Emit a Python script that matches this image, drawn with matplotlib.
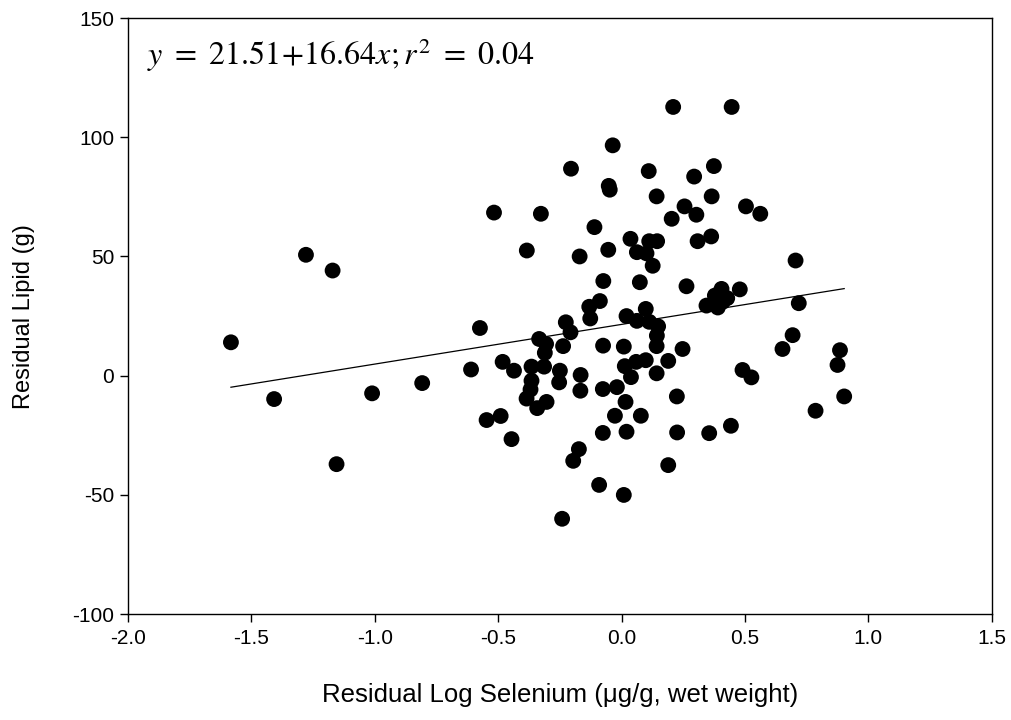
import numpy as np
import matplotlib
matplotlib.use("Agg")
import matplotlib.pyplot as plt

# residual log selenium (x) and residual lipid (y)
sel = [-1.583, -1.408, -1.279, -1.171, -1.155, -1.011, -0.808, -0.610, -0.574, -0.547,
       -0.517, -0.490, -0.482, -0.446, -0.436, -0.384, -0.385, -0.369, -0.365, -0.365,
       -0.342, -0.334, -0.327, -0.314, -0.311, -0.306, -0.304, -0.253, -0.250, -0.241,
       -0.237, -0.226, -0.207, -0.205, -0.196, -0.173, -0.170, -0.167, -0.166, -0.131,
       -0.127, -0.110, -0.091, -0.088, -0.074, -0.075, -0.076, -0.076, -0.054, -0.052,
       -0.048, -0.036, -0.027, -0.019, 0.009, 0.009, 0.013, 0.016, 0.020, 0.020,
       0.036, 0.038, 0.059, 0.062, 0.062, 0.074, 0.078, 0.098, 0.098, 0.101,
       0.110, 0.112, 0.112, 0.126, 0.142, 0.142, 0.142, 0.143, 0.144, 0.148,
       0.189, 0.189, 0.203, 0.209, 0.224, 0.225, 0.247, 0.255, 0.263, 0.294,
       0.303, 0.308, 0.355, 0.363, 0.365, 0.374, 0.405, 0.378, 0.428, 0.344,
       0.390, 0.410, 0.443, 0.446, 0.479, 0.490, 0.504, 0.526, 0.562, 0.652,
       0.693, 0.705, 0.718, 0.786, 0.875, 0.885, 0.902]
lipid = [14.0, -9.8, 50.7, 44.1, -37.1, -7.4, -3.1, 2.6, 20.0, -18.6,
         68.4, -16.9, 5.8, -26.6, 2.1, 52.5, -9.6, -5.8, -2.1, 3.8,
         -13.6, 15.4, 67.9, 3.8, 9.6, 13.3, -11.0, -2.8, 2.1, -60.0,
         12.4, 22.4, 18.2, 86.8, -35.7, -30.8, 50.0, -6.3, 0.3, 28.9,
         24.0, 62.3, -45.8, 31.3, 39.7, 12.6, -5.6, -24.0, 52.8, 79.6,
         78.0, 96.6, -16.8, -4.8, 12.2, -50.0, 4.0, -11.0, 25.0, -23.5,
         57.4, -0.6, 5.8, 51.8, 23.0, 39.2, -16.8, 6.5, 28.0, 51.3,
         85.8, 56.4, 22.6, 46.1, 75.2, 1.0, 12.4, 16.8, 56.4, 20.7,
         6.2, -37.5, 65.8, 112.7, -8.7, -23.8, 11.2, 71.0, 37.5, 83.5,
         67.5, 56.4, -24.1, 58.4, 75.2, 87.9, 36.4, 33.6, 32.5, 29.4,
         28.6, 31.0, -21.0, 112.7, 36.2, 2.4, 71.0, -0.7, 67.9, 11.2,
         17.0, 48.3, 30.4, -14.7, 4.5, 10.7, -8.7]

intercept = 21.51
slope = 16.64

xticks = [-2.0, -1.5, -1.0, -0.5, 0.0, 0.5, 1.0, 1.5]
yticks = [-100, -50, 0, 50, 100, 150]

plt.rcParams['font.family'] = ['Liberation Sans', 'DejaVu Sans']
plt.rcParams['mathtext.fontset'] = 'stix'

fig = plt.figure(figsize=(10.12, 7.2), dpi=100)
ax = fig.add_axes([0.1265, 0.147, 0.8535, 0.828])

ax.scatter(sel, lipid, s=130, c='black', edgecolors='none', zorder=3)

# regression line over the data range
xl = np.array([min(sel), max(sel)])
ax.plot(xl, intercept + slope * xl, color='black', lw=0.9, zorder=2)

ax.set_xlim(-2.0, 1.5)
ax.set_ylim(-100, 150)
ax.set_xticks(xticks)
ax.set_yticks(yticks)
ax.set_xticklabels(['%.1f' % v for v in xticks])
ax.set_yticklabels([str(v) for v in yticks])
ax.tick_params(direction='out', length=6, width=1, labelsize=15, top=False, right=False)
ax.tick_params(axis='x', pad=5)
ax.tick_params(axis='y', pad=4)
for s in ax.spines.values():
    s.set_linewidth(1)

ax.set_xlabel('Residual Log Selenium (\u03bcg/g, wet weight)', fontsize=18.5, labelpad=25)
ax.set_ylabel('Residual Lipid (g)', fontsize=17, labelpad=27)

ax.text(0.022, 0.922, r'$y\ =\ 21.51\!+\!16.64x; r^2\ =\ 0.04$', transform=ax.transAxes,
        fontsize=23, va='baseline', ha='left')

fig.savefig('out.png', dpi=100)
